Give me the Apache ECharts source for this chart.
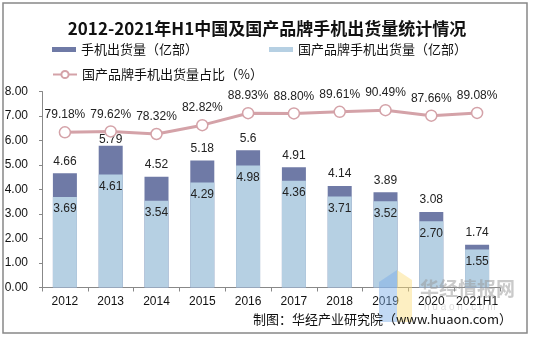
<!DOCTYPE html>
<html><head><meta charset="utf-8">
<script src="https://cdn.jsdelivr.net/npm/echarts@6/dist/echarts.min.js"></script>
<style>html,body{margin:0;padding:0;background:#fff}#c{width:534px;height:338px}</style>
</head><body><div id="c"></div>
<script>
const categories = ['2012','2013','2014','2015','2016','2017','2018','2019','2020','2021H1'];
const totalShipments = [4.66, 5.79, 4.52, 5.18, 5.6, 4.91, 4.14, 3.89, 3.08, 1.74];
const domesticShipments = [3.69, 4.61, 3.54, 4.29, 4.98, 4.36, 3.71, 3.52, 2.70, 1.55];
const domesticShare = [79.18, 79.62, 78.32, 82.82, 88.93, 88.80, 89.61, 90.49, 87.66, 89.08];
const yTicks = [0,1,2,3,4,5,6,7,8];

const FONT = 'Liberation Sans, Arial, sans-serif';
const CJK = 'Noto Sans CJK SC, sans-serif';
const DARK = '#6F7AA6';
const LIGHT = '#B6D0E3';
const PINK = '#D4A2A8';

// the 2013 total label sits tight against its bar to avoid the line marker
const totalData = totalShipments.map((v, i) => i === 1 ? {value: v, label: {distance: 0}} : v);

const chart = echarts.init(document.getElementById('c'), null, {renderer:'canvas'});
chart.setOption({
  animation: false,
  backgroundColor: '#fff',
  title: {
    text: '2012-2021年H1中国及国产品牌手机出货量统计情况',
    left: 'center', top: 15,
    textStyle: {fontFamily: CJK, fontSize: 17, fontWeight: 'bold', color: '#111'}
  },
  legend: [
    {data: ['手机出货量（亿部）'], left: 47, top: 38, itemWidth: 24, itemHeight: 5, icon: 'rect', itemGap: 4,
     textStyle: {fontFamily: CJK, fontSize: 13, color: '#111'}},
    {data: ['国产品牌手机出货量（亿部）'], left: 264, top: 38, itemWidth: 24, itemHeight: 5, icon: 'rect',
     textStyle: {fontFamily: CJK, fontSize: 13, color: '#111'}},
    {data: ['国产品牌手机出货量占比（%）'], left: 47, top: 63, itemWidth: 24, itemHeight: 9,
     textStyle: {fontFamily: CJK, fontSize: 13, color: '#111'}}
  ],
  grid: {left: 42, right: 34, top: 91.5, bottom: 50.5, containLabel: false},
  xAxis: {
    type: 'category', data: categories, boundaryGap: true,
    axisLine: {lineStyle: {color: '#888', width: 1}},
    axisTick: {show: true, alignWithLabel: false, length: 4, lineStyle: {color: '#888'}},
    axisLabel: {fontFamily: FONT, fontSize: 12, color: '#111', margin: 8, interval: 0}
  },
  yAxis: [
    {type: 'value', min: yTicks[0], max: yTicks[yTicks.length-1], interval: 1,
     axisLine: {show: true, lineStyle: {color: '#888'}},
     axisTick: {show: true, length: 3, lineStyle: {color: '#888'}},
     splitLine: {show: false},
     axisLabel: {fontFamily: FONT, fontSize: 12, color: '#111', margin: 14, formatter: v => v.toFixed(2)}},
    {type: 'value', min: 0, max: 100, show: false, splitLine: {show: false}}
  ],
  series: [
    {name: '手机出货量（亿部）', type: 'bar', data: totalData, barWidth: 24,
     itemStyle: {color: DARK}, z: 2,
     label: {show: true, position: 'top', distance: 6, fontFamily: FONT, fontSize: 12, color: '#222'}},
    {name: '国产品牌手机出货量（亿部）', type: 'bar', data: domesticShipments, barWidth: 24, barGap: '-100%',
     itemStyle: {color: LIGHT}, z: 2,
     label: {show: true, position: 'insideTop', distance: 6, fontFamily: FONT, fontSize: 12, color: '#222',
             formatter: p => p.value.toFixed(2)}},
    {name: '国产品牌手机出货量占比（%）', type: 'line', yAxisIndex: 1, data: domesticShare,
     symbol: 'circle', symbolSize: 11,
     lineStyle: {color: PINK, width: 3},
     itemStyle: {color: '#fff', borderColor: PINK, borderWidth: 1.5},
     label: {show: true, position: 'top', distance: 5, fontFamily: FONT, fontSize: 12, color: '#222',
             formatter: p => p.value.toFixed(2) + '%'},
     z: 3}
  ],
  graphic: [
    {type: 'rect', shape: {x: 3, y: 3, width: 524, height: 330}, style: {fill: 'none', stroke: '#888', lineWidth: 1.5}, z: 0, silent: true},
    {type: 'polygon', shape: {points: [[379,282],[397,270],[397,322],[379,322]]}, style: {fill: 'rgba(120,170,230,0.45)'}, z: 50, silent: true},
    {type: 'polygon', shape: {points: [[397,270],[412,280],[412,322],[397,322]]}, style: {fill: 'rgba(250,220,120,0.45)'}, z: 50, silent: true},
    {type: 'text', left: 420, top: 279, style: {text: '华经情报网', font: 'bold 19px Noto Sans CJK SC', fill: 'rgba(150,150,150,0.5)'}, z: 50, silent: true},
    {type: 'text', left: 424, top: 302, style: {text: 'h u a o n . c o m', font: '10px Liberation Sans', fill: 'rgba(170,170,170,0.4)'}, z: 50, silent: true},
    {type: 'text', right: 22, top: 313, style: {text: '制图：华经产业研究院（www.huaon.com）', font: '13px Noto Sans CJK SC', fill: '#111'}, z: 60, silent: true}
  ]
});
</script></body></html>
